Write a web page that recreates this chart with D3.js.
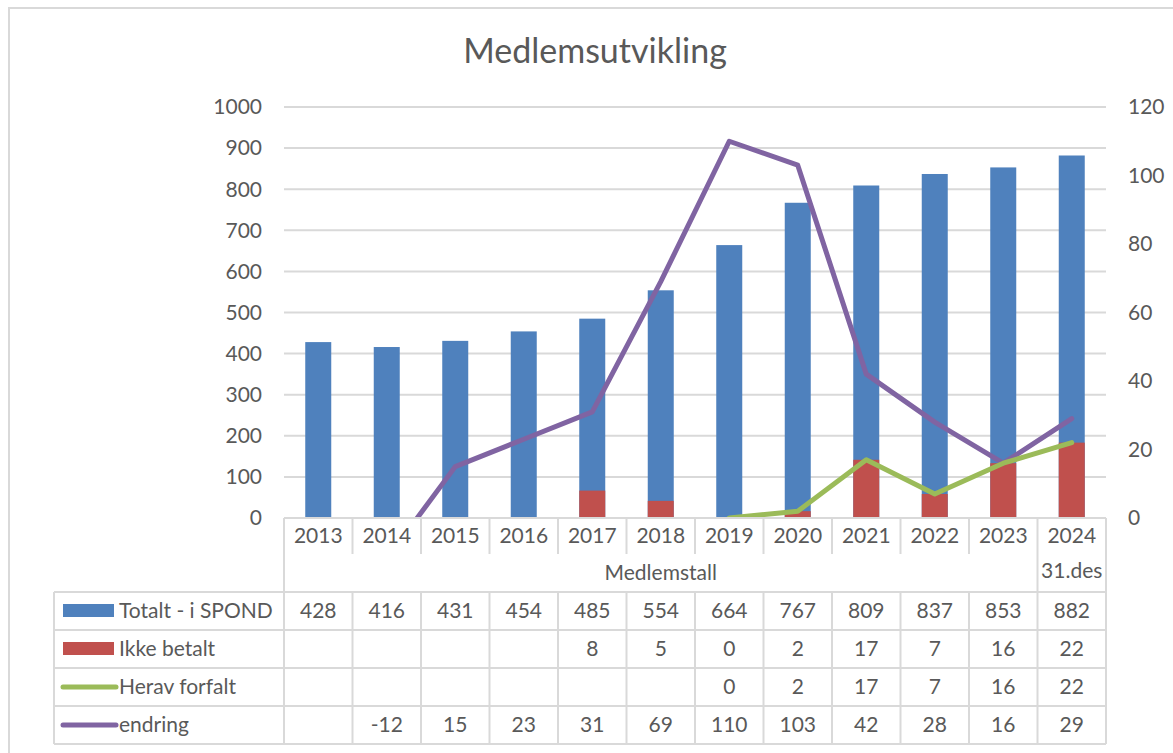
<!DOCTYPE html>
<html>
<head>
<meta charset="utf-8">
<script src="https://cdn.jsdelivr.net/npm/d3@7"></script>
<style>
  body { margin: 0; background: #fff; }
  svg text { font-family: Lato, "Liberation Sans", sans-serif; fill: #595959; }
</style>
</head>
<body>
<svg id="chart" width="1173" height="753"></svg>
<script>
(function () {
    'use strict';

    var years = ["2013", "2014", "2015", "2016", "2017", "2018", "2019", "2020", "2021", "2022", "2023", "2024"];
    var totalt = [428, 416, 431, 454, 485, 554, 664, 767, 809, 837, 853, 882];
    var ikkeBetalt = [null, null, null, null, 8, 5, 0, 2, 17, 7, 16, 22];
    var heravForfalt = [null, null, null, null, null, null, 0, 2, 17, 7, 16, 22];
    var endring = [null, -12, 15, 23, 31, 69, 110, 103, 42, 28, 16, 29];
    var leftTicks = [0, 100, 200, 300, 400, 500, 600, 700, 800, 900, 1000];
    var rightTicks = [0, 20, 40, 60, 80, 100, 120];

    var grid = "#d9d9d9";
    var blue = "#4f81bd", red = "#c0504d", green = "#9bbb59", purple = "#8064a2";
    var fs = "21px";

    var svg = d3.select("#chart");
    var left = 284, right = 1106, top = 107, bottom = 518;

    var x = d3.scaleBand().domain(years).range([left, right]).padding(0);
    var y = d3.scaleLinear().domain([0, 1000]).range([bottom, top]);
    var y2 = d3.scaleLinear().domain([0, 120]).range([bottom, top]);
    var barW = 26;
    function cx(i) { return x(years[i]) + x.bandwidth() / 2; }

    // outer frame
    svg.append("rect")
        .attr("x", 9).attr("y", 8)
        .attr("width", 1180).attr("height", 760)
        .style("fill", "none").style("stroke", grid).style("stroke-width", 2);

    svg.append("text")
        .attr("x", 595).attr("y", 63)
        .attr("text-anchor", "middle")
        .style("font-size", "34px")
        .text("Medlemsutvikling");

    // gridlines
    svg.append("g").selectAll("line")
        .data(leftTicks.slice(1))
        .enter()
        .append("line")
        .attr("x1", left).attr("x2", right)
        .attr("y1", function (d) { return y(d); })
        .attr("y2", function (d) { return y(d); })
        .style("stroke", grid).style("stroke-width", 2);

    // left axis labels
    svg.append("g").selectAll("text")
        .data(leftTicks)
        .enter()
        .append("text")
        .attr("x", 262)
        .attr("y", function (d) { return y(d); })
        .attr("dy", "0.35em")
        .attr("text-anchor", "end")
        .style("font-size", fs)
        .text(function (d) { return d; });

    // right axis labels
    svg.append("g").selectAll("text")
        .data(rightTicks)
        .enter()
        .append("text")
        .attr("x", 1128)
        .attr("y", function (d) { return y2(d); })
        .attr("dy", "0.35em")
        .attr("text-anchor", "start")
        .style("font-size", fs)
        .text(function (d) { return d; });

    svg.append("defs").append("clipPath").attr("id", "plotClip")
        .append("rect").attr("x", left).attr("y", top - 10)
        .attr("width", right - left).attr("height", bottom - top + 10);

    // bars
    svg.append("g").selectAll("rect")
        .data(totalt)
        .enter()
        .append("rect")
        .attr("x", function (d, i) { return cx(i) - barW / 2; })
        .attr("y", function (d) { return y(d); })
        .attr("width", barW)
        .attr("height", function (d) { return bottom - y(d); })
        .style("fill", blue);

    svg.append("g").selectAll("rect")
        .data(ikkeBetalt.map(function (v, i) { return { v: v, i: i }; })
            .filter(function (d) { return d.v !== null; }))
        .enter()
        .append("rect")
        .attr("x", function (d) { return cx(d.i) - barW / 2; })
        .attr("y", function (d) { return y2(d.v); })
        .attr("width", barW)
        .attr("height", function (d) { return bottom - y2(d.v); })
        .style("fill", red);

    // lines
    function seriesLine(values, color) {
        var pts = values.map(function (v, i) { return { i: i, v: v }; })
            .filter(function (p) { return p.v !== null; });
        var line = d3.line()
            .x(function (p) { return cx(p.i); })
            .y(function (p) { return y2(p.v); });
        svg.append("path")
            .datum(pts)
            .attr("d", line)
            .attr("clip-path", "url(#plotClip)")
            .style("fill", "none")
            .style("stroke", color)
            .style("stroke-width", 5)
            .style("stroke-linejoin", "round")
            .style("stroke-linecap", "round");
    }
    seriesLine(endring, purple);
    seriesLine(heravForfalt, green);

    // category table
    var t = svg.append("g").style("stroke", grid).style("stroke-width", 2);
    t.append("line").attr("x1", left).attr("x2", right).attr("y1", bottom).attr("y2", bottom);
    years.forEach(function (yr, i) {
        var bx = x(yr);
        var ext = (i === 0 || i === years.length - 1) ? 592 : 554;
        t.append("line").attr("x1", bx).attr("x2", bx).attr("y1", bottom).attr("y2", ext);
    });
    t.append("line").attr("x1", right).attr("x2", right).attr("y1", bottom).attr("y2", 744);

    svg.append("g").selectAll("text")
        .data(years)
        .enter()
        .append("text")
        .attr("x", function (d, i) { return cx(i); })
        .attr("y", 536)
        .attr("dy", "0.35em")
        .attr("text-anchor", "middle")
        .style("font-size", fs)
        .text(function (d) { return d; });

    svg.append("text")
        .attr("x", (left + x("2024")) / 2).attr("y", 573)
        .attr("dy", "0.35em").attr("text-anchor", "middle")
        .style("font-size", fs)
        .text("Medlemstall");
    svg.append("text")
        .attr("x", cx(years.length - 1)).attr("y", 571)
        .attr("dy", "0.35em").attr("text-anchor", "middle")
        .style("font-size", fs)
        .text("31.des");

    // data table
    var rowsTop = 592, rowH = 38, legendLeft = 54;
    var rows = [
        { name: "Totalt - i SPOND", values: totalt, color: blue, kind: "bar" },
        { name: "Ikke betalt", values: ikkeBetalt, color: red, kind: "bar" },
        { name: "Herav forfalt", values: heravForfalt, color: green, kind: "line" },
        { name: "endring", values: endring, color: purple, kind: "line" }
    ];
    var rowsBottom = rowsTop + rows.length * rowH;
    d3.range(rows.length + 1).forEach(function (k) {
        var ry = rowsTop + k * rowH;
        t.append("line").attr("x1", legendLeft).attr("x2", right).attr("y1", ry).attr("y2", ry);
    });
    t.append("line").attr("x1", legendLeft).attr("x2", legendLeft)
        .attr("y1", rowsTop).attr("y2", rowsBottom);
    years.forEach(function (yr) {
        t.append("line").attr("x1", x(yr)).attr("x2", x(yr))
            .attr("y1", rowsTop).attr("y2", rowsBottom);
    });

    rows.forEach(function (r, k) {
        var cy = rowsTop + k * rowH + rowH / 2;
        if (r.kind === "bar") {
            svg.append("rect").attr("x", 63).attr("y", cy - 7)
                .attr("width", 51).attr("height", 13).style("fill", r.color);
        } else {
            svg.append("line").attr("x1", 63).attr("x2", 116)
                .attr("y1", cy).attr("y2", cy)
                .style("stroke", r.color).style("stroke-width", 5)
                .style("stroke-linecap", "round");
        }
        svg.append("text").attr("x", 119).attr("y", cy).attr("dy", "0.35em")
            .style("font-size", fs).text(r.name);
        r.values.forEach(function (v, i) {
            if (v === null) { return; }
            svg.append("text")
                .attr("x", cx(i))
                .attr("y", cy).attr("dy", "0.35em")
                .attr("text-anchor", "middle")
                .style("font-size", fs)
                .text(v);
        });
    });
}());
</script>
</body>
</html>
